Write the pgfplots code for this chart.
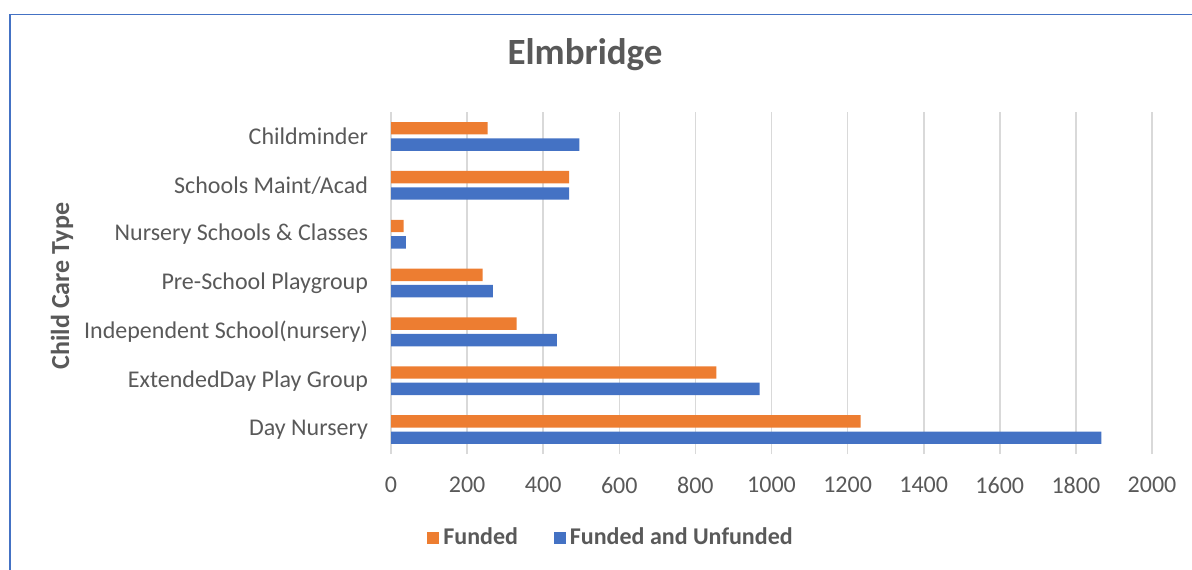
\documentclass[border=0pt]{standalone}
\usepackage{fontspec}
\setmainfont{Carlito}
\usepackage{pgfplots}
\pgfplotsset{compat=1.18}
\definecolor{cor}{HTML}{ED7D31}
\definecolor{cbl}{HTML}{4472C4}
\definecolor{txt}{HTML}{595959}
\definecolor{grd}{HTML}{D9D9D9}
\begin{document}
\begin{tikzpicture}
\begin{axis}[
  at={(195.5bp,58bp)}, anchor=south west,
  scale only axis, width=380.5bp, height=171bp,
  xmin=0, xmax=2000, ymin=-0.5, ymax=6.5,
  xbar, bar width=6.2bp,
  axis line style={draw=none},
  xmajorgrids, grid style={grd, line width=0.8bp},
  xtick={0,200,...,2000},
  ytick={0,1,2,3,4,5,6},
  yticklabels={Day Nursery\hspace{2.8bp},ExtendedDay Play Group\hspace{2.8bp},Independent School(nursery),Pre-School Playgroup\hspace{2.8bp},Nursery Schools \& Classes\hspace{2.8bp},Schools Maint/Acad\hspace{2.8bp},Childminder},
  major tick length=0pt,
  tick label style={font=\fontsize{12bp}{14bp}\selectfont, text=txt},
  /pgf/number format/assume math mode=true,
  /pgf/number format/1000 sep={},
  xticklabel style={yshift=-8bp},
  yticklabel style={xshift=-8bp},
  reverse legend,
  legend columns=2,
  legend style={draw=none, fill=none, at={(0.2904,-0.2456)}, anchor=center,
    font=\bfseries\fontsize{12bp}{14bp}\selectfont, text=txt,
    /tikz/every even column/.append style={column sep=16bp}},
  legend image code/.code={\fill[#1] (0bp,-3bp) rectangle (6bp,3bp);},
]
\addplot[fill=cbl, draw=none] coordinates {(1867,0) (969,1) (436,2) (268,3) (39,4) (468,5) (495,6)};
\addlegendentry{Funded and Unfunded}
\addplot[fill=cor, draw=none] coordinates {(1234,0) (855,1) (330,2) (241,3) (33,4) (468,5) (254,6)};
\addlegendentry{Funded}
\end{axis}
\node[font=\bfseries\fontsize{18.5bp}{22bp}\selectfont, text=txt] at (292.5bp,257.5bp) {Elmbridge};
\node[font=\bfseries\fontsize{13bp}{15bp}\selectfont, text=txt, rotate=90] at (31bp,142bp) {Child Care Type};
\draw[cbl, line width=1bp] (5bp,0bp) -- (5bp,277.75bp);
\draw[cbl, line width=0.6bp] (4.5bp,277.75bp) -- (596bp,277.75bp);
\pgfresetboundingbox
\useasboundingbox (0,0) rectangle (596bp,285bp);
\end{tikzpicture}
\end{document}
